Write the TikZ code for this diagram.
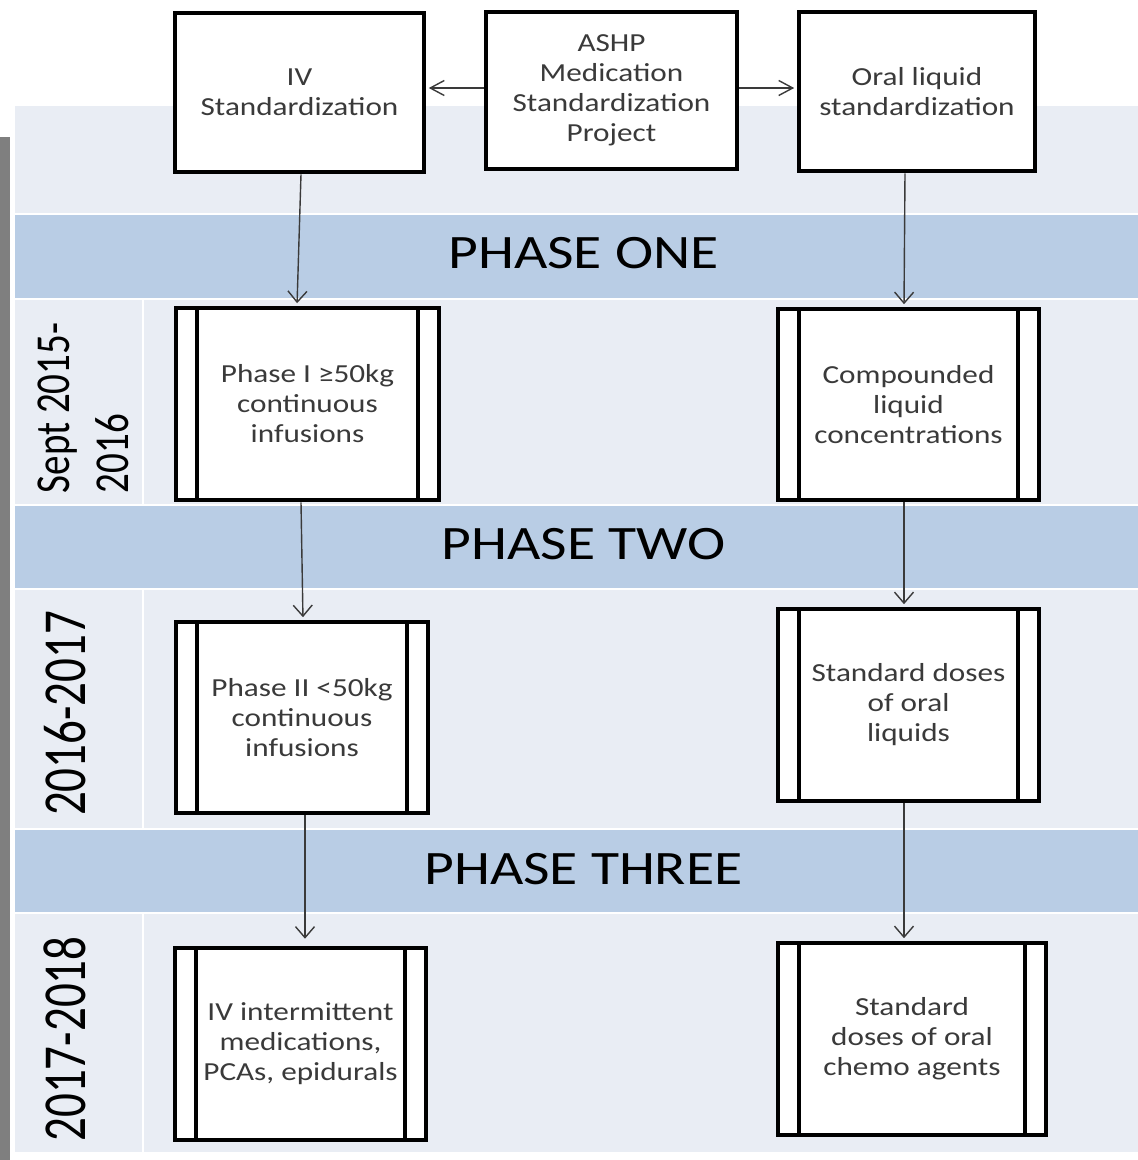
\documentclass[tikz,border=0pt]{standalone}
\usepackage{fontspec}
\setmainfont{Carlito}[FakeStretch=1.2]
\newfontfamily\rotfont{Carlito}
\usetikzlibrary{arrows.meta}
\definecolor{lightbg}{HTML}{E9EDF4}
\definecolor{bandblue}{HTML}{B9CDE5}
\definecolor{graybar}{HTML}{7F7F7F}
\definecolor{txtgray}{HTML}{3A3A3A}
\definecolor{arrowgray}{HTML}{3A3A3A}
\tikzset{
  box/.style={draw=black, line width=4.6pt, fill=white, align=center, inner sep=0pt,
    text=txtgray, font=\fontsize{26}{30}\selectfont},
  predef/.style={box, path picture={
    \draw[black, line width=4pt] ([xshift=21pt]path picture bounding box.north west) -- ([xshift=21pt]path picture bounding box.south west);
    \draw[black, line width=4pt] ([xshift=-21pt]path picture bounding box.north east) -- ([xshift=-21pt]path picture bounding box.south east);}},
  phaselabel/.style={text=black, inner sep=0pt, font=\fontsize{48}{58}\selectfont},
  rowlabel/.style={text=black, inner sep=0pt, rotate=90},
  varrow/.style={draw=arrowgray, line width=1.4pt, -{Straight Barb[length=11pt,width=19pt,line width=1.4pt]}},
  harrow/.style={draw=arrowgray, line width=1.4pt, -{Straight Barb[length=14pt,width=15pt,line width=1.4pt]}},
}
\begin{document}
\begin{tikzpicture}[x=1pt, y=-1pt]
\useasboundingbox (0,0) rectangle (1138,1160);
% background
\fill[graybar] (0,137) rectangle (10,1160);
\fill[lightbg] (15,106) rectangle (1138,213);
\fill[bandblue] (15,215) rectangle (1138,298);
\fill[lightbg] (15,300) rectangle (142,504);
\fill[lightbg] (144,300) rectangle (1138,504);
\fill[bandblue] (15,506) rectangle (1138,588);
\fill[lightbg] (15,590) rectangle (142,828);
\fill[lightbg] (144,590) rectangle (1138,828);
\fill[bandblue] (15,830) rectangle (1138,912);
\fill[lightbg] (15,914) rectangle (142,1152);
\fill[lightbg] (144,914) rectangle (1138,1152);
% phase labels
\node[phaselabel] (ph1) at (583.5,253.5) {PHASE ONE};
\node[phaselabel] (ph2) at (583.5,544) {PHASE TWO};
\node[phaselabel] (ph3) at (583.5,869) {PHASE THREE};
% row labels
\node[rowlabel] (r1) at (87,408) {\scalebox{1}[1.25]{\rotfont\fontsize{39}{47}\selectfont\begin{tabular}{@{}l@{}}Sept 2015-\\2016\end{tabular}}};
\node[rowlabel] (r2) at (65,713.5) {\scalebox{1}[1.3]{\rotfont\fontsize{47}{56}\selectfont 2016-2017}};
\node[rowlabel] (r3) at (65,1039) {\scalebox{1}[1.3]{\rotfont\fontsize{47}{56}\selectfont 2017-2018}};
% top boxes
\node[box, minimum width=249pt, minimum height=159pt] (iv) at (299.5,92.5) {IV\\Standardization};
\node[box, minimum width=251pt, minimum height=157pt] (ashp) at (611.5,90.5) {ASHP\\Medication\\Standardization\\Project};
\node[box, minimum width=236pt, minimum height=159pt] (oral) at (917,91.5) {Oral liquid\\standardization};
% process boxes
\node[predef, minimum width=263pt, minimum height=192pt] (p1) at (307.5,404) {Phase I ≥50kg\\continuous\\infusions};
\node[predef, minimum width=261pt, minimum height=191pt] (comp) at (908.5,404.5) {Compounded\\liquid\\concentrations};
\node[predef, minimum width=252pt, minimum height=191pt] (p2) at (302,717.5) {Phase II <50kg\\continuous\\infusions};
\node[predef, minimum width=261pt, minimum height=192pt] (sdol) at (908.5,705) {Standard doses\\of oral\\liquids};
\node[predef, minimum width=251pt, minimum height=192pt] (ivint) at (300.5,1044) {IV intermittent\\medications,\\PCAs, epidurals};
\node[predef, minimum width=268pt, minimum height=192pt] (chemo) at (912,1039) {Standard\\doses of oral\\chemo agents};
% connectors
\draw[harrow, shorten >=2.5pt] ([yshift=2.5pt]ashp.west) -- ([yshift=2.5pt]iv.east |- ashp.west);
\draw[harrow, shorten >=2.5pt] ([yshift=2.5pt]ashp.east) -- ([yshift=2.5pt]oral.west |- ashp.east);
\draw[varrow, shorten >=2.5pt] ([xshift=1.5pt]iv.south) -- ([xshift=-10.5pt]p1.north);
\draw[varrow, shorten >=2.5pt] ([xshift=-6.5pt]p1.south) -- ([xshift=1pt]p2.north);
\draw[varrow, shorten >=7pt] ([xshift=3pt]p2.south) -- ([xshift=4.5pt]ivint.north);
\draw[varrow, shorten >=2.5pt] ([xshift=-12pt]oral.south) -- ([xshift=-4.5pt]comp.north);
\draw[varrow, shorten >=2.5pt] ([xshift=-4.5pt]comp.south) -- ([xshift=-4.5pt]sdol.north);
\draw[varrow, shorten >=2.5pt] ([xshift=-4.5pt]sdol.south) -- ([xshift=-8pt]chemo.north);
\end{tikzpicture}
\end{document}
